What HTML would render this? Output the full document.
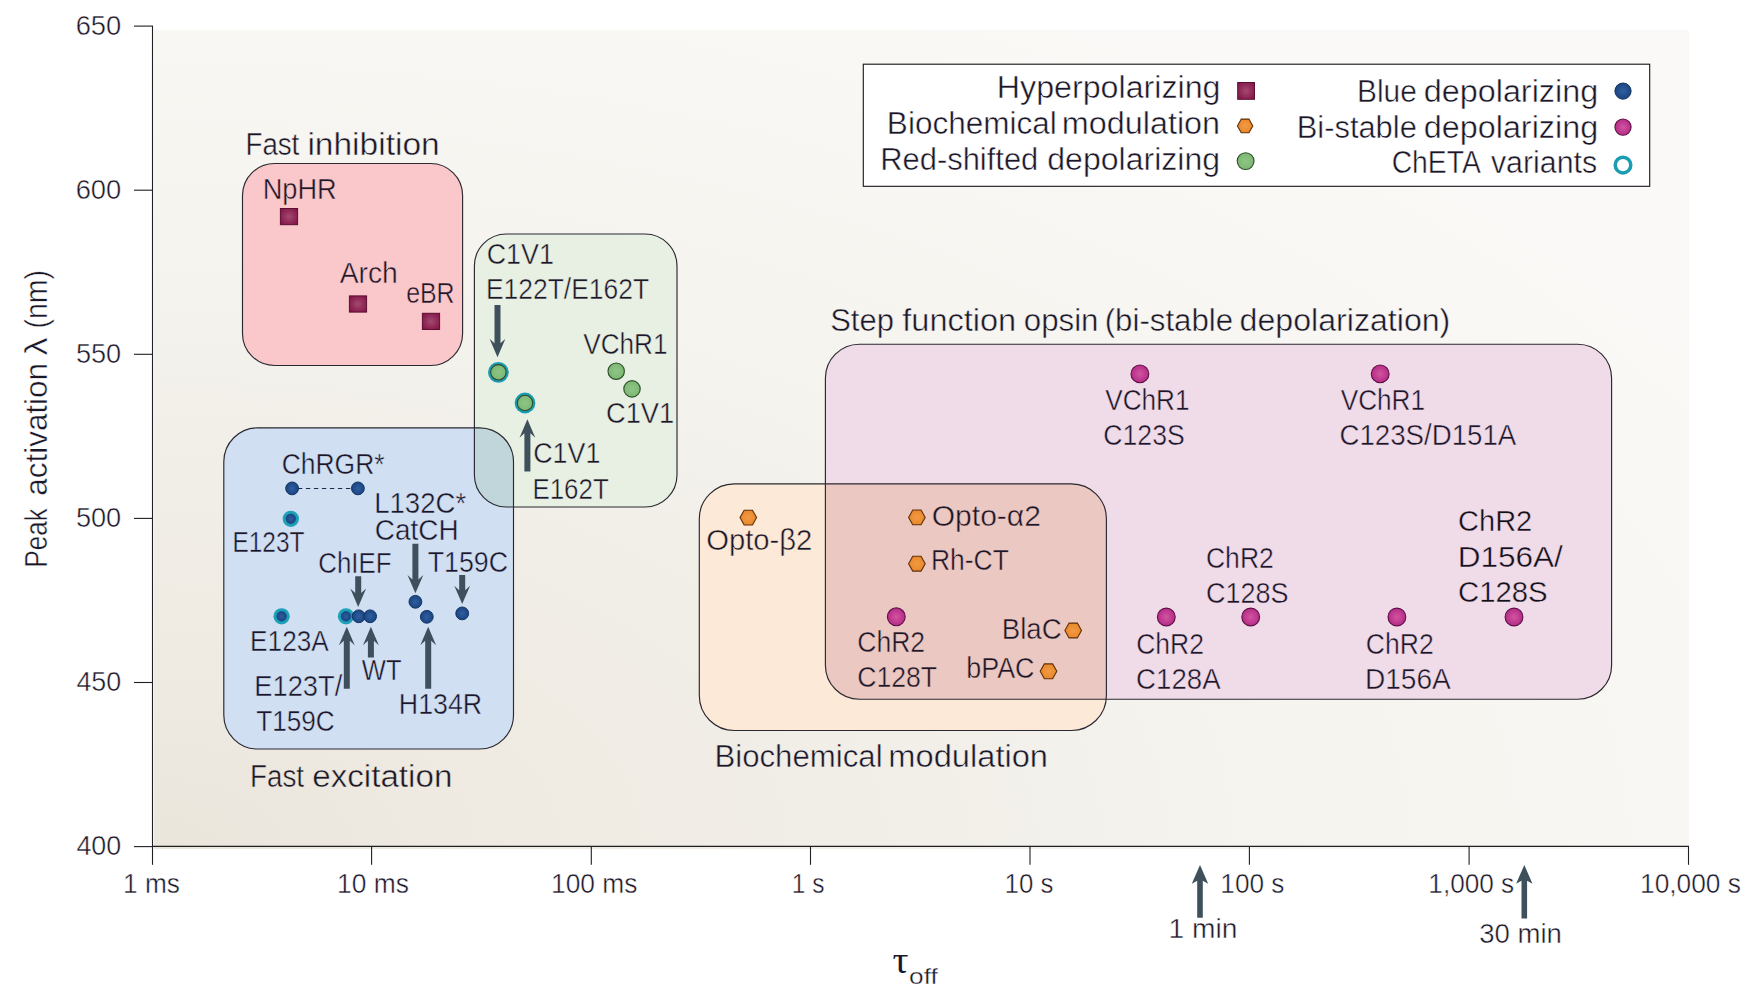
<!DOCTYPE html>
<html><head><meta charset="utf-8"><title>Opsin kinetics chart</title>
<style>html,body{margin:0;padding:0;background:#fff;}body{width:1764px;height:1003px;overflow:hidden;}svg{display:block;position:absolute;left:0;top:0;font-family:"Liberation Sans",sans-serif;}text{fill:#1b1729;}</style></head><body>
<svg width="1764" height="1003" viewBox="0 0 1764 1003">
<defs>
<radialGradient id="bg" cx="0" cy="1" fx="0" fy="1" r="1.2"><stop offset="0" stop-color="#ebe6dc"/><stop offset="0.21" stop-color="#efebe3"/><stop offset="0.42" stop-color="#f2efe9"/><stop offset="0.625" stop-color="#f5f4ef"/><stop offset="0.83" stop-color="#f8f7f3"/><stop offset="1" stop-color="#faf9f7"/></radialGradient>
<radialGradient id="gsq" cx="0.5" cy="0.5" r="0.6"><stop offset="0" stop-color="#a34a6e"/><stop offset="1" stop-color="#85164a"/></radialGradient>
<radialGradient id="gbl" cx="0.5" cy="0.5" r="0.6"><stop offset="0" stop-color="#2f5fa0"/><stop offset="1" stop-color="#173f7c"/></radialGradient>
<radialGradient id="gmg" cx="0.5" cy="0.5" r="0.6"><stop offset="0" stop-color="#d2549f"/><stop offset="1" stop-color="#b02483"/></radialGradient>
<radialGradient id="ggr" cx="0.5" cy="0.5" r="0.6"><stop offset="0" stop-color="#8fc586"/><stop offset="1" stop-color="#79b56f"/></radialGradient>
<radialGradient id="gor" cx="0.5" cy="0.5" r="0.6"><stop offset="0" stop-color="#f19a45"/><stop offset="1" stop-color="#e98425"/></radialGradient>
</defs>
<rect x="154" y="30" width="1535" height="819" fill="url(#bg)"/>
<clipPath id="cpg"><rect x="474.4" y="234" width="202.6" height="273" rx="32" ry="32"/></clipPath>
<clipPath id="cpp"><rect x="825.4" y="344.2" width="786.2" height="355" rx="34" ry="34"/></clipPath>
<rect x="242.5" y="163.5" width="220.1" height="202" rx="32" ry="32" fill="#fac8ca"/>
<rect x="474.4" y="234" width="202.6" height="273" rx="32" ry="32" fill="#e8f0e4"/>
<rect x="223.8" y="427.8" width="289.7" height="321.2" rx="34" ry="34" fill="#d0dff2"/>
<rect x="825.4" y="344.2" width="786.2" height="355" rx="34" ry="34" fill="#f0dce8"/>
<rect x="699.3" y="483.8" width="407.1" height="246.7" rx="35" ry="35" fill="#fde9d8"/>
<rect x="223.8" y="427.8" width="289.7" height="321.2" rx="34" ry="34" fill="#c1d6db" clip-path="url(#cpg)"/>
<rect x="699.3" y="483.8" width="407.1" height="246.7" rx="35" ry="35" fill="#ecc8c2" clip-path="url(#cpp)"/>
<rect x="242.5" y="163.5" width="220.1" height="202" rx="32" ry="32" fill="none" stroke="#2a2830" stroke-width="1.15"/>
<rect x="474.4" y="234" width="202.6" height="273" rx="32" ry="32" fill="none" stroke="#2a2830" stroke-width="1.15"/>
<rect x="223.8" y="427.8" width="289.7" height="321.2" rx="34" ry="34" fill="none" stroke="#2a2830" stroke-width="1.15"/>
<rect x="825.4" y="344.2" width="786.2" height="355" rx="34" ry="34" fill="none" stroke="#2a2830" stroke-width="1.15"/>
<rect x="699.3" y="483.8" width="407.1" height="246.7" rx="35" ry="35" fill="none" stroke="#2a2830" stroke-width="1.15"/>
<g stroke="#1f1f24" stroke-width="1.1" fill="none">
<path d="M152.5 25.7V846.4H1689"/>
<path d="M134 846.6H152.5"/>
<path d="M134 682.5H152.5"/>
<path d="M134 518.4H152.5"/>
<path d="M134 354.3H152.5"/>
<path d="M134 190.2H152.5"/>
<path d="M134 26.1H152.5"/>
<path d="M152.5 846.4V864.8"/>
<path d="M371.6 846.4V864.8"/>
<path d="M591.3 846.4V864.8"/>
<path d="M810.5 846.4V864.8"/>
<path d="M1030 846.4V864.8"/>
<path d="M1249.4 846.4V864.8"/>
<path d="M1469.1 846.4V864.8"/>
<path d="M1688.5 846.4V864.8"/>
</g>
<text x="75.63" y="34.8" font-size="27.5" textLength="45.62" lengthAdjust="spacingAndGlyphs" stroke="#ffffff" stroke-width="0.45">650</text>
<text x="75.63" y="198.9" font-size="27.5" textLength="45.62" lengthAdjust="spacingAndGlyphs" stroke="#ffffff" stroke-width="0.45">600</text>
<text x="75.91" y="363" font-size="27.5" textLength="45.33" lengthAdjust="spacingAndGlyphs" stroke="#ffffff" stroke-width="0.45">550</text>
<text x="75.91" y="527.1" font-size="27.5" textLength="45.33" lengthAdjust="spacingAndGlyphs" stroke="#ffffff" stroke-width="0.45">500</text>
<text x="76.4" y="691.2" font-size="27.5" textLength="44.84" lengthAdjust="spacingAndGlyphs" stroke="#ffffff" stroke-width="0.45">450</text>
<text x="76.4" y="855.3" font-size="27.5" textLength="44.84" lengthAdjust="spacingAndGlyphs" stroke="#ffffff" stroke-width="0.45">400</text>
<text x="123.03" y="893" font-size="27.5" textLength="56.87" lengthAdjust="spacingAndGlyphs" stroke="#ffffff" stroke-width="0.45">1 ms</text>
<text x="337.02" y="893" font-size="27.5" textLength="71.92" lengthAdjust="spacingAndGlyphs" stroke="#ffffff" stroke-width="0.45">10 ms</text>
<text x="551.02" y="893" font-size="27.5" textLength="86.38" lengthAdjust="spacingAndGlyphs" stroke="#ffffff" stroke-width="0.45">100 ms</text>
<text x="791.76" y="893" font-size="27.5" textLength="32.67" lengthAdjust="spacingAndGlyphs" stroke="#ffffff" stroke-width="0.45">1 s</text>
<text x="1004.56" y="893" font-size="27.5" textLength="48.85" lengthAdjust="spacingAndGlyphs" stroke="#ffffff" stroke-width="0.45">10 s</text>
<text x="1220.33" y="893" font-size="27.5" textLength="64.15" lengthAdjust="spacingAndGlyphs" stroke="#ffffff" stroke-width="0.45">100 s</text>
<text x="1428.34" y="893" font-size="27.5" textLength="85.89" lengthAdjust="spacingAndGlyphs" stroke="#ffffff" stroke-width="0.45">1,000 s</text>
<text x="1640.03" y="893" font-size="27.5" textLength="100.87" lengthAdjust="spacingAndGlyphs" stroke="#ffffff" stroke-width="0.45">10,000 s</text>
<g transform="translate(47.4,567.6) rotate(-90)">
<text x="0.12" y="0" font-size="31.5" textLength="59.2" lengthAdjust="spacingAndGlyphs" stroke="#ffffff" stroke-width="0.45">Peak</text>
<text x="71.86" y="0" font-size="31.5" textLength="132.77" lengthAdjust="spacingAndGlyphs" stroke="#ffffff" stroke-width="0.45">activation</text>
<text x="212.02" y="0" font-size="31.5" textLength="18.05" lengthAdjust="spacingAndGlyphs" stroke="#ffffff" stroke-width="0.45">λ</text>
<text x="238.99" y="0" font-size="31.5" textLength="58.63" lengthAdjust="spacingAndGlyphs" stroke="#ffffff" stroke-width="0.45">(nm)</text>
</g>
<text x="892.5" y="972.5" font-size="38" font-family="Liberation Serif,serif" textLength="16" lengthAdjust="spacingAndGlyphs">τ</text>
<text x="909.05" y="984" font-size="21.5" textLength="28.72" lengthAdjust="spacingAndGlyphs" stroke="#ffffff" stroke-width="0.3">off</text>
<path fill="#3e505c" d="M494.5 305.1L500.5 305.1L500.5 343.3L505.4 338.8L497.5 357.2L489.6 338.8L494.5 343.3L494.5 305.1L494.5 305.1Z"/>
<path fill="#3e505c" d="M524.4 471.4L530.4 471.4L530.4 433.2L535.3 437.7L527.4 419.3L519.5 437.7L524.4 433.2L524.4 471.4L524.4 471.4Z"/>
<path fill="#3e505c" d="M355.2 576.3L361.2 576.3L361.2 593L366.1 588.5L358.2 606.9L350.3 588.5L355.2 593L355.2 576.3L355.2 576.3Z"/>
<path fill="#3e505c" d="M412.4 543.7L418.4 543.7L418.4 579.4L423.3 574.9L415.4 593.3L407.5 574.9L412.4 579.4L412.4 543.7L412.4 543.7Z"/>
<path fill="#3e505c" d="M459.2 574.9L465.2 574.9L465.2 590.2L470.1 585.7L462.2 604.1L454.3 585.7L459.2 590.2L459.2 574.9L459.2 574.9Z"/>
<path fill="#3e505c" d="M343.8 688.8L349.8 688.8L349.8 640.7L354.7 645.2L346.8 626.8L338.9 645.2L343.8 640.7L343.8 688.8L343.8 688.8Z"/>
<path fill="#3e505c" d="M367.9 657.4L373.9 657.4L373.9 640.7L378.8 645.2L370.9 626.8L363 645.2L367.9 640.7L367.9 657.4L367.9 657.4Z"/>
<path fill="#3e505c" d="M425.2 688.8L431.2 688.8L431.2 640.7L436.1 645.2L428.2 626.8L420.3 645.2L425.2 640.7L425.2 688.8L425.2 688.8Z"/>
<path fill="#3e505c" d="M1197.2 917.8L1202.8 917.8L1202.8 880.7L1208.2 883.7L1200 865L1191.8 883.7L1197.2 880.7L1197.2 917.8L1197.2 917.8Z"/>
<path fill="#3e505c" d="M1521.5 918.5L1527.1 918.5L1527.1 880.7L1532.5 883.7L1524.3 865L1516.1 883.7L1521.5 880.7L1521.5 918.5L1521.5 918.5Z"/>
<rect x="280.4" y="208.5" width="17.2" height="16.2" fill="url(#gsq)" stroke="#5b0f33" stroke-width="1"/>
<rect x="349.4" y="295.9" width="17.2" height="16.2" fill="url(#gsq)" stroke="#5b0f33" stroke-width="1"/>
<rect x="422.4" y="313.3" width="17.2" height="16.2" fill="url(#gsq)" stroke="#5b0f33" stroke-width="1"/>
<circle cx="498.4" cy="372.3" r="10.4" fill="#1a9db2" stroke="none" stroke-width="0"/>
<circle cx="498.4" cy="372.3" r="7.7" fill="url(#ggr)" stroke="#2d4a2b" stroke-width="1.1"/>
<circle cx="525" cy="403" r="10.4" fill="#1a9db2" stroke="none" stroke-width="0"/>
<circle cx="525" cy="403" r="7.7" fill="url(#ggr)" stroke="#2d4a2b" stroke-width="1.1"/>
<circle cx="616.2" cy="371.2" r="8.2" fill="url(#ggr)" stroke="#2f4f2c" stroke-width="1.15"/>
<circle cx="632" cy="388.9" r="8.2" fill="url(#ggr)" stroke="#2f4f2c" stroke-width="1.15"/>
<path d="M297.9 488.5H352" stroke="#1d2a4a" stroke-width="1.1" stroke-dasharray="4.4 3.6" fill="none"/>
<circle cx="292.1" cy="488.4" r="6.4" fill="url(#gbl)" stroke="#123564" stroke-width="1"/>
<circle cx="357.9" cy="488.4" r="6.4" fill="url(#gbl)" stroke="#123564" stroke-width="1"/>
<circle cx="290.8" cy="518.8" r="8.15" fill="#1ca1b6" stroke="none" stroke-width="0"/>
<circle cx="290.8" cy="518.8" r="4.85" fill="url(#gbl)" stroke="#1d4488" stroke-width="0.6"/>
<circle cx="281.6" cy="616.3" r="8.15" fill="#1ca1b6" stroke="none" stroke-width="0"/>
<circle cx="281.6" cy="616.3" r="4.85" fill="url(#gbl)" stroke="#1d4488" stroke-width="0.6"/>
<circle cx="346" cy="616.3" r="8.15" fill="#1ca1b6" stroke="none" stroke-width="0"/>
<circle cx="346" cy="616.3" r="4.85" fill="url(#gbl)" stroke="#1d4488" stroke-width="0.6"/>
<circle cx="358.7" cy="616.3" r="6.4" fill="url(#gbl)" stroke="#123564" stroke-width="1"/>
<circle cx="370.1" cy="616.3" r="6.4" fill="url(#gbl)" stroke="#123564" stroke-width="1"/>
<circle cx="415.4" cy="601.8" r="6.4" fill="url(#gbl)" stroke="#123564" stroke-width="1"/>
<circle cx="426.8" cy="616.8" r="6.4" fill="url(#gbl)" stroke="#123564" stroke-width="1"/>
<circle cx="462.2" cy="613.4" r="6.4" fill="url(#gbl)" stroke="#123564" stroke-width="1"/>
<path d="M740 517.6L744.15 510.2L752.45 510.2L756.6 517.6L752.45 525L744.15 525Z" fill="url(#gor)" stroke="#5e300a" stroke-width="1.1"/>
<path d="M908.6 517.4L912.75 510L921.05 510L925.2 517.4L921.05 524.8L912.75 524.8Z" fill="url(#gor)" stroke="#5e300a" stroke-width="1.1"/>
<path d="M908.6 563.7L912.75 556.3L921.05 556.3L925.2 563.7L921.05 571.1L912.75 571.1Z" fill="url(#gor)" stroke="#5e300a" stroke-width="1.1"/>
<path d="M1064.9 630.5L1069.05 623.1L1077.35 623.1L1081.5 630.5L1077.35 637.9L1069.05 637.9Z" fill="url(#gor)" stroke="#5e300a" stroke-width="1.1"/>
<path d="M1040.2 671.3L1044.35 663.9L1052.65 663.9L1056.8 671.3L1052.65 678.7L1044.35 678.7Z" fill="url(#gor)" stroke="#5e300a" stroke-width="1.1"/>
<circle cx="1139.9" cy="373.9" r="8.9" fill="url(#gmg)" stroke="#5e1046" stroke-width="1.1"/>
<circle cx="1380.2" cy="373.9" r="8.9" fill="url(#gmg)" stroke="#5e1046" stroke-width="1.1"/>
<circle cx="896.3" cy="616.8" r="8.9" fill="url(#gmg)" stroke="#5e1046" stroke-width="1.1"/>
<circle cx="1166.3" cy="617" r="8.9" fill="url(#gmg)" stroke="#5e1046" stroke-width="1.1"/>
<circle cx="1250.7" cy="617" r="8.9" fill="url(#gmg)" stroke="#5e1046" stroke-width="1.1"/>
<circle cx="1396.9" cy="617" r="8.9" fill="url(#gmg)" stroke="#5e1046" stroke-width="1.1"/>
<circle cx="1514" cy="617" r="8.9" fill="url(#gmg)" stroke="#5e1046" stroke-width="1.1"/>
<text x="245.48" y="154.6" font-size="31" textLength="53.85" lengthAdjust="spacingAndGlyphs" stroke="#f3f1eb" stroke-width="0.45">Fast</text>
<text x="307.42" y="154.6" font-size="31" textLength="132.27" lengthAdjust="spacingAndGlyphs" stroke="#f3f1eb" stroke-width="0.45">inhibition</text>
<text x="249.98" y="786.7" font-size="31" textLength="54.06" lengthAdjust="spacingAndGlyphs" stroke="#eee9df" stroke-width="0.45">Fast</text>
<text x="312.19" y="786.7" font-size="31" textLength="140.16" lengthAdjust="spacingAndGlyphs" stroke="#eee9df" stroke-width="0.45">excitation</text>
<text x="714.4" y="767.4" font-size="31" textLength="168.18" lengthAdjust="spacingAndGlyphs" stroke="#f5f3ef" stroke-width="0.45">Biochemical</text>
<text x="888.38" y="767.4" font-size="31" textLength="159.63" lengthAdjust="spacingAndGlyphs" stroke="#f5f3ef" stroke-width="0.45">modulation</text>
<text x="830.21" y="331.1" font-size="31" textLength="63.7" lengthAdjust="spacingAndGlyphs" stroke="#f8f7f4" stroke-width="0.45">Step</text>
<text x="902.29" y="331.1" font-size="31" textLength="113.84" lengthAdjust="spacingAndGlyphs" stroke="#f8f7f4" stroke-width="0.45">function</text>
<text x="1023.75" y="331.1" font-size="31" textLength="74.73" lengthAdjust="spacingAndGlyphs" stroke="#f8f7f4" stroke-width="0.45">opsin</text>
<text x="1104.73" y="331.1" font-size="31" textLength="128.41" lengthAdjust="spacingAndGlyphs" stroke="#f8f7f4" stroke-width="0.45">(bi-stable</text>
<text x="1239.62" y="331.1" font-size="31" textLength="210.71" lengthAdjust="spacingAndGlyphs" stroke="#f8f7f4" stroke-width="0.45">depolarization)</text>
<text x="262.73" y="198.8" font-size="29" textLength="74" lengthAdjust="spacingAndGlyphs" stroke="#fac8ca" stroke-width="0.45">NpHR</text>
<text x="339.7" y="282.5" font-size="29" textLength="58.1" lengthAdjust="spacingAndGlyphs" stroke="#fac8ca" stroke-width="0.45">Arch</text>
<text x="406.14" y="302.9" font-size="29" textLength="48.49" lengthAdjust="spacingAndGlyphs" stroke="#fac8ca" stroke-width="0.45">eBR</text>
<text x="486.66" y="264" font-size="29" textLength="67.16" lengthAdjust="spacingAndGlyphs" stroke="#e8f0e4" stroke-width="0.45">C1V1</text>
<text x="485.88" y="299.1" font-size="29" textLength="163.26" lengthAdjust="spacingAndGlyphs" stroke="#e8f0e4" stroke-width="0.45">E122T/E162T</text>
<text x="583.23" y="353.5" font-size="29" textLength="84.34" lengthAdjust="spacingAndGlyphs" stroke="#e8f0e4" stroke-width="0.45">VChR1</text>
<text x="605.94" y="422.7" font-size="29" textLength="68.2" lengthAdjust="spacingAndGlyphs" stroke="#e8f0e4" stroke-width="0.45">C1V1</text>
<text x="533.16" y="462.9" font-size="29" textLength="67.16" lengthAdjust="spacingAndGlyphs" stroke="#e8f0e4" stroke-width="0.45">C1V1</text>
<text x="532.43" y="499.2" font-size="29" textLength="76.33" lengthAdjust="spacingAndGlyphs" stroke="#e8f0e4" stroke-width="0.45">E162T</text>
<text x="281.68" y="473.7" font-size="29" textLength="102.91" lengthAdjust="spacingAndGlyphs" stroke="#d0dff2" stroke-width="0.45">ChRGR*</text>
<text x="374.19" y="512.8" font-size="29" textLength="91.98" lengthAdjust="spacingAndGlyphs" stroke="#d0dff2" stroke-width="0.45">L132C*</text>
<text x="374.8" y="540.3" font-size="29" textLength="83.85" lengthAdjust="spacingAndGlyphs" stroke="#d0dff2" stroke-width="0.45">CatCH</text>
<text x="232.44" y="551.6" font-size="29" textLength="72.08" lengthAdjust="spacingAndGlyphs" stroke="#d0dff2" stroke-width="0.45">E123T</text>
<text x="318.31" y="572.9" font-size="29" textLength="73.2" lengthAdjust="spacingAndGlyphs" stroke="#d0dff2" stroke-width="0.45">ChIEF</text>
<text x="427.66" y="572.3" font-size="29" textLength="80.31" lengthAdjust="spacingAndGlyphs" stroke="#d0dff2" stroke-width="0.45">T159C</text>
<text x="250.1" y="651.4" font-size="29" textLength="78.66" lengthAdjust="spacingAndGlyphs" stroke="#d0dff2" stroke-width="0.45">E123A</text>
<text x="361.84" y="680.2" font-size="29" textLength="39.67" lengthAdjust="spacingAndGlyphs" stroke="#d0dff2" stroke-width="0.45">WT</text>
<text x="254.32" y="695.6" font-size="29" textLength="87.89" lengthAdjust="spacingAndGlyphs" stroke="#d0dff2" stroke-width="0.45">E123T/</text>
<text x="256.18" y="730.7" font-size="29" textLength="78.58" lengthAdjust="spacingAndGlyphs" stroke="#d0dff2" stroke-width="0.45">T159C</text>
<text x="398.86" y="713.7" font-size="29" textLength="83.36" lengthAdjust="spacingAndGlyphs" stroke="#d0dff2" stroke-width="0.45">H134R</text>
<text x="706.18" y="550.2" font-size="29" textLength="106.2" lengthAdjust="spacingAndGlyphs" stroke="#fde9d8" stroke-width="0.45">Opto-β2</text>
<text x="931.75" y="526.3" font-size="29" textLength="109.19" lengthAdjust="spacingAndGlyphs" stroke="#ecc8c2" stroke-width="0.45">Opto-α2</text>
<text x="930.98" y="570.1" font-size="29" textLength="77.9" lengthAdjust="spacingAndGlyphs" stroke="#ecc8c2" stroke-width="0.45">Rh-CT</text>
<text x="1001.79" y="639.3" font-size="29" textLength="59.85" lengthAdjust="spacingAndGlyphs" stroke="#ecc8c2" stroke-width="0.45">BlaC</text>
<text x="966.32" y="677.8" font-size="29" textLength="68.2" lengthAdjust="spacingAndGlyphs" stroke="#ecc8c2" stroke-width="0.45">bPAC</text>
<text x="857.27" y="652" font-size="29" textLength="67.83" lengthAdjust="spacingAndGlyphs" stroke="#ecc8c2" stroke-width="0.45">ChR2</text>
<text x="857.27" y="687.4" font-size="29" textLength="79.8" lengthAdjust="spacingAndGlyphs" stroke="#ecc8c2" stroke-width="0.45">C128T</text>
<text x="1136.17" y="654.3" font-size="29" textLength="67.83" lengthAdjust="spacingAndGlyphs" stroke="#f0dce8" stroke-width="0.45">ChR2</text>
<text x="1136.12" y="689.2" font-size="29" textLength="84.46" lengthAdjust="spacingAndGlyphs" stroke="#f0dce8" stroke-width="0.45">C128A</text>
<text x="1205.97" y="568.3" font-size="29" textLength="67.83" lengthAdjust="spacingAndGlyphs" stroke="#f0dce8" stroke-width="0.45">ChR2</text>
<text x="1205.95" y="603.2" font-size="29" textLength="82.57" lengthAdjust="spacingAndGlyphs" stroke="#f0dce8" stroke-width="0.45">C128S</text>
<text x="1365.87" y="654.3" font-size="29" textLength="67.83" lengthAdjust="spacingAndGlyphs" stroke="#f0dce8" stroke-width="0.45">ChR2</text>
<text x="1364.95" y="689.2" font-size="29" textLength="85.82" lengthAdjust="spacingAndGlyphs" stroke="#f0dce8" stroke-width="0.45">D156A</text>
<text x="1105.23" y="409.7" font-size="29" textLength="84.34" lengthAdjust="spacingAndGlyphs" stroke="#f0dce8" stroke-width="0.45">VChR1</text>
<text x="1103.37" y="444.7" font-size="29" textLength="81.33" lengthAdjust="spacingAndGlyphs" stroke="#f0dce8" stroke-width="0.45">C123S</text>
<text x="1340.73" y="409.7" font-size="29" textLength="84.34" lengthAdjust="spacingAndGlyphs" stroke="#f0dce8" stroke-width="0.45">VChR1</text>
<text x="1339.42" y="444.7" font-size="29" textLength="176.9" lengthAdjust="spacingAndGlyphs" stroke="#f0dce8" stroke-width="0.45">C123S/D151A</text>
<text x="1458.05" y="531.4" font-size="30" textLength="74.18" lengthAdjust="spacingAndGlyphs" style="fill:#121018" stroke="#f0dce8" stroke-width="0.42">ChR2</text>
<text x="1457.68" y="566.6" font-size="30" textLength="105.16" lengthAdjust="spacingAndGlyphs" style="fill:#121018" stroke="#f0dce8" stroke-width="0.42">D156A/</text>
<text x="1458.04" y="601.6" font-size="30" textLength="89.59" lengthAdjust="spacingAndGlyphs" style="fill:#121018" stroke="#f0dce8" stroke-width="0.42">C128S</text>
<text x="1168.49" y="937.8" font-size="27.5" textLength="68.88" lengthAdjust="spacingAndGlyphs" stroke="#ffffff" stroke-width="0.45">1 min</text>
<text x="1479.17" y="943.3" font-size="27.5" textLength="82.8" lengthAdjust="spacingAndGlyphs" stroke="#ffffff" stroke-width="0.45">30 min</text>
<rect x="863.3" y="64.2" width="786.4" height="122.1" fill="#ffffff" stroke="#15151a" stroke-width="1.1"/>
<text x="996.82" y="98.2" font-size="31" textLength="223.7" lengthAdjust="spacingAndGlyphs" stroke="#ffffff" stroke-width="0.45">Hyperpolarizing</text>
<text x="886.88" y="133.5" font-size="31" textLength="169.83" lengthAdjust="spacingAndGlyphs" stroke="#ffffff" stroke-width="0.45">Biochemical</text>
<text x="1061.8" y="133.5" font-size="31" textLength="158.3" lengthAdjust="spacingAndGlyphs" stroke="#ffffff" stroke-width="0.45">modulation</text>
<text x="880.23" y="170.2" font-size="31" textLength="158.05" lengthAdjust="spacingAndGlyphs" stroke="#ffffff" stroke-width="0.45">Red-shifted</text>
<text x="1047.32" y="170.2" font-size="31" textLength="172.69" lengthAdjust="spacingAndGlyphs" stroke="#ffffff" stroke-width="0.45">depolarizing</text>
<text x="1357.01" y="101.7" font-size="31" textLength="59.81" lengthAdjust="spacingAndGlyphs" stroke="#ffffff" stroke-width="0.45">Blue</text>
<text x="1423.81" y="101.7" font-size="31" textLength="174.32" lengthAdjust="spacingAndGlyphs" stroke="#ffffff" stroke-width="0.45">depolarizing</text>
<text x="1296.73" y="137.5" font-size="31" textLength="120.1" lengthAdjust="spacingAndGlyphs" stroke="#ffffff" stroke-width="0.45">Bi-stable</text>
<text x="1423.81" y="137.5" font-size="31" textLength="174.32" lengthAdjust="spacingAndGlyphs" stroke="#ffffff" stroke-width="0.45">depolarizing</text>
<text x="1391.68" y="173.4" font-size="31" textLength="89.16" lengthAdjust="spacingAndGlyphs" stroke="#ffffff" stroke-width="0.45">ChETA</text>
<text x="1490.92" y="173.4" font-size="31" textLength="106.21" lengthAdjust="spacingAndGlyphs" stroke="#ffffff" stroke-width="0.45">variants</text>
<rect x="1237.7" y="82.5" width="16.8" height="16.8" fill="url(#gsq)" stroke="#5b0f33" stroke-width="1"/>
<path d="M1237.4 125.9L1241.25 119.1L1248.95 119.1L1252.8 125.9L1248.95 132.7L1241.25 132.7Z" fill="url(#gor)" stroke="#5e300a" stroke-width="1.1"/>
<circle cx="1245.6" cy="161.1" r="8.4" fill="url(#ggr)" stroke="#2f4f2c" stroke-width="1.15"/>
<circle cx="1623" cy="91.1" r="8.1" fill="url(#gbl)" stroke="#123564" stroke-width="1"/>
<circle cx="1623" cy="127.1" r="8.1" fill="url(#gmg)" stroke="#5e1046" stroke-width="1.1"/>
<circle cx="1623" cy="165.1" r="7.8" fill="#ffffff" stroke="#1a9db2" stroke-width="3.5"/>
</svg></body></html>
